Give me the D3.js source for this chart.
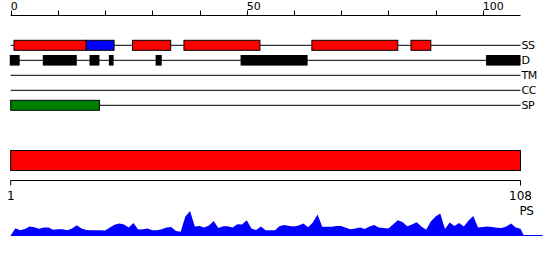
<!DOCTYPE html>
<html><head><meta charset="utf-8">
<script src="https://cdn.jsdelivr.net/npm/d3@7"></script>
<style>body{margin:0;background:#fff}svg{display:block}text{font-family:"DejaVu Sans",sans-serif;fill:#000}</style>
</head><body><svg id="c" width="550" height="260"></svg>
<script>
// ---- data ----
const topTicks = [0,10,20,30,40,50,60,70,80,90,100];
const topTickLabels = [0,50,100];
const trackNames = ["SS","D","TM","CC","SP"];
// SS segments: [start, end, type]
const ssStart = [0.7, 16, 25.8, 36.7, 63.8, 84.8];
const ssEnd   = [16, 21.9, 33.9, 52.8, 82, 89];
const ssType  = ["H","E","H","H","H","H"];
const dStart = [-0.2, 6.8, 16.7, 20.8, 30.7, 48.7, 100.7];
const dEnd   = [1.9, 14, 18.8, 21.8, 32, 62.9, 108];
const spStart = [0];
const spEnd = [18.8];
const domainStart = [1];
const domainEnd = [108];
const domainLabel = "PS";
const bottomTickLabels = [1,108];
const psVal = [7.3,5.3,6.5,9,8.2,6.8,8,8,5.7,6.3,6.2,5.2,7,10.2,7,5.5,5.3,5.3,5.3,5.1,
  8,10.8,12,11,8,12.5,6,6.3,7,5.3,5.3,6.3,8,8.5,4.5,3.8,19,24.5,9,9.5,
  8,10,14.5,7.5,9.3,9.3,8,11.3,11,15.3,7,5.5,9,5.3,5.3,5.3,9.5,10.5,9.5,9,
  10,12,8.3,13,21,8.7,8.7,8.7,9.5,9.5,7.8,6.2,7,8,6.5,9,10.5,8,7.5,7,
  11,15.3,13.5,9.3,11,13.3,9,5.8,14,19,22,6.5,13,9.5,12.5,9,15,19.5,8,8.5,
  9,8.5,7.8,7.6,9,12,8,6.7];

// ---- scales ----
const svg = d3.select("#c");
const x = d3.scaleLinear().domain([0,108]).range([10.7,520.5]);
const xb = d3.scaleLinear().domain([1,108]).range([10.7,520.5]);
const rowY = d3.scalePoint().domain(trackNames).range([45.3,105.3]);
const yPS = d3.scaleLinear().domain([0,30]).range([235.5,205.5]);
const ssColor = d3.scaleOrdinal().domain(["H","E"]).range(["#ff0000","#0000ff"]);

// top axis
const topG = svg.append("g").attr("transform","translate(0,15.5)");
topG.append("line").attr("x1",x(0)).attr("x2",x(108)).attr("stroke","#000");
topG.selectAll("line.t").data(topTicks).join("line").attr("class","t")
  .attr("x1",d=>Math.round(x(d))+0.5).attr("x2",d=>Math.round(x(d))+0.5)
  .attr("y1",0).attr("y2",-5).attr("stroke","#000");
topG.selectAll("text").data(topTickLabels).join("text")
  .attr("x",d=>x(d)).attr("y",-6).attr("font-size",11).text(d=>d);

// track lines + labels
svg.selectAll("line.track").data(trackNames).join("line").attr("class","track")
  .attr("x1",x(0)).attr("x2",x(108)).attr("y1",d=>rowY(d)).attr("y2",d=>rowY(d))
  .attr("stroke","#000");
svg.selectAll("text.track").data(trackNames).join("text").attr("class","track")
  .attr("x",x(108)+1).attr("y",d=>rowY(d)).attr("dy","0.36em").attr("font-size",11)
  .attr("letter-spacing",-0.5).text(d=>d);

// SS bars
svg.selectAll("rect.ss").data(ssStart.map((s,i)=>({s,e:ssEnd[i],t:ssType[i]}))).join("rect")
  .attr("class","ss").attr("x",d=>x(d.s)).attr("width",d=>x(d.e)-x(d.s))
  .attr("y",rowY("SS")-5).attr("height",10).attr("fill",d=>ssColor(d.t))
  .attr("stroke","#000").attr("stroke-width",1);
// D bars
svg.selectAll("rect.d").data(dStart.map((s,i)=>({s,e:dEnd[i]}))).join("rect")
  .attr("class","d").attr("x",d=>x(d.s)).attr("width",d=>x(d.e)-x(d.s))
  .attr("y",rowY("D")-5.3).attr("height",10.6).attr("fill","#000");
// SP bars
svg.selectAll("rect.sp").data(spStart.map((s,i)=>({s,e:spEnd[i]}))).join("rect")
  .attr("class","sp").attr("x",d=>x(d.s)).attr("width",d=>x(d.e)-x(d.s))
  .attr("y",rowY("SP")-5).attr("height",10).attr("fill","#008000")
  .attr("stroke","#000");

// domain bar
svg.selectAll("rect.dom").data(domainStart.map((s,i)=>({s,e:domainEnd[i]}))).join("rect")
  .attr("class","dom").attr("x",d=>xb(d.s)).attr("width",d=>xb(d.e)-xb(d.s))
  .attr("y",150.5).attr("height",20).attr("fill","#ff0000").attr("stroke","#000");

// bottom axis
const bG = svg.append("g").attr("transform","translate(0,180.5)");
bG.append("line").attr("x1",xb(1)).attr("x2",xb(108)).attr("stroke","#000");
bG.selectAll("line.t").data(bottomTickLabels).join("line").attr("class","t")
  .attr("x1",d=>xb(d)).attr("x2",d=>xb(d)).attr("y1",0).attr("y2",5).attr("stroke","#000");
bG.selectAll("text").data(bottomTickLabels).join("text")
  .attr("x",d=>xb(d)).attr("y",19).attr("text-anchor","middle").attr("font-size",12).text(d=>d);
svg.append("text").attr("x",xb(108)+6).attr("y",215).attr("text-anchor","middle")
  .attr("font-size",12).attr("letter-spacing",-0.5).text(domainLabel);

// PS area
const pts = [[0,0]].concat(psVal.map((v,i)=>[i+1,v])).concat([[108.7,0]]);
svg.append("path").datum(pts)
  .attr("d",d3.area().x(d=>x(d[0])).y0(yPS(0)).y1(d=>yPS(d[1])))
  .attr("fill","#0000ff");
svg.append("line").attr("x1",x(0)).attr("x2",x(112.7)).attr("y1",yPS(0)).attr("y2",yPS(0))
  .attr("stroke","#0000ff");
</script></body></html>
